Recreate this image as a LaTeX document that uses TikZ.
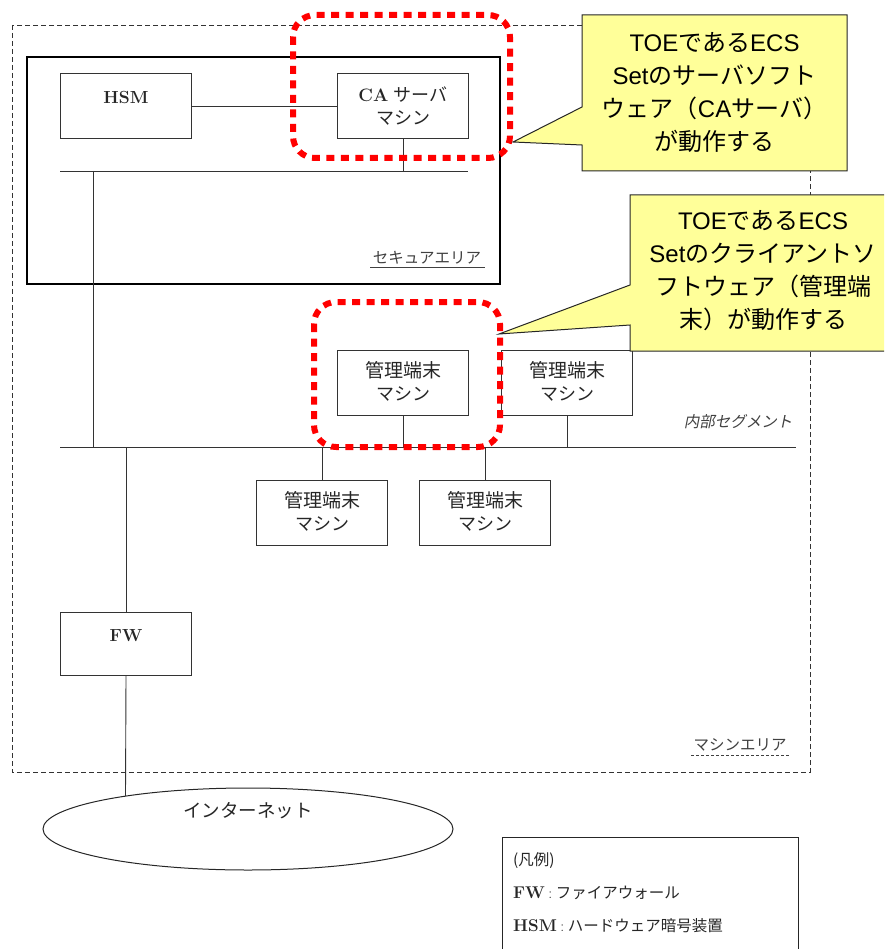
\documentclass[tikz,border=0pt]{standalone}
\usepackage{fontspec}
\usetikzlibrary{shapes.geometric,calc}
\newfontfamily\jp{Noto Sans CJK JP}
\newfontfamily\jpit{Noto Sans CJK JP}[FakeSlant=0.2]
\newfontfamily\ls{Liberation Sans}
\definecolor{callfill}{HTML}{FFFF99}
\definecolor{toered}{HTML}{FF0000}
\tikzset{
 box/.style={draw=black!80, line width=1pt, minimum width=131pt, minimum height=65pt, inner sep=0pt, anchor=north west},
 wire/.style={draw=black!80, line width=0.9pt},
 lab/.style={font=\fontsize{18}{20}\selectfont, text=black!85, inner sep=0pt},
 small/.style={font=\jp\fontsize{15.5}{18}\selectfont, text=black!75, inner sep=0pt},
 hot/.style={draw=toered, line width=6pt, dash pattern=on 8pt off 6.5pt, rounded corners=22pt},
 callout/.style={draw=black!85, line width=1pt, fill=callfill},
 calltext/.style={font=\jp\fontsize{24}{33}\selectfont, align=center, inner sep=0pt},
}
\begin{document}
\begin{tikzpicture}[x=1pt,y=-1pt]
\useasboundingbox (0,0) rectangle (884,949);
\clip (0,0) rectangle (884,949);
% machine area (dashed)
\draw[black!80, line width=0.9pt, dash pattern=on 5pt off 3pt] (12,25) rectangle (810,772);
% secure area
\draw[line width=2.5pt] (27,57) rectangle (500,284);
\node[small] (seclab) at (427,258) {セキュアエリア};
\draw[black!75, line width=0.8pt] (370,267) -- (485,267);
% boxes
\node[box] (hsm) at (60,73) {};
\node[box] (ca) at (337,73) {};
\node[box] (tA) at (337,350) {};
\node[box] (tB) at (501,350) {};
\node[box] (tC) at (256,480) {};
\node[box] (tD) at (419,480) {};
\node[box, minimum height=63pt] (fw) at (60,612) {};
% box texts
\node[lab, font=\bfseries\fontsize{17.5}{20}\selectfont] (hsmt) at ([yshift=-25pt]hsm.north) {HSM};
\node[lab] (cat1) at ([yshift=-22pt]ca.north) {{\bfseries CA} {\jp サーバ}};
\node[lab, font=\jp\fontsize{18}{20}\selectfont] (cat2) at ([yshift=-45pt]ca.north) {マシン};
\foreach \b in {tA,tB,tC,tD}{
  \node[lab, font=\jp\fontsize{19}{20}\selectfont] (\b1) at ([yshift=-20pt]\b.north) {管理端末};
  \node[lab, font=\jp\fontsize{18}{20}\selectfont] (\b2) at ([yshift=-44pt]\b.north) {マシン};
}
\node[lab, font=\bfseries\fontsize{17.5}{20}\selectfont] (fwt) at ([yshift=-24pt]fw.north) {FW};
% buses
\coordinate (b1w) at (60,171);
\coordinate (b1e) at (468,171);
\coordinate (j1) at (93,171);
\coordinate (j2) at (93,447);
\coordinate (b2w) at (60,447);
\coordinate (b2e) at (796,447);
\draw[wire] (hsm.east) -- (ca.west);
\draw[wire] (b1w) -- (b1e);
\draw[wire] (ca.south) -- (ca.south |- b1w);
\draw[wire] (j1) -- (j2);
\draw[wire] (b2w) -- (b2e);
\draw[wire] (tA.south) -- (tA.south |- b2w);
\draw[wire] (tB.south) -- (tB.south |- b2w);
\draw[wire] (tC.north) -- (tC.north |- b2w);
\draw[wire] (tD.north) -- (tD.north |- b2w);
\draw[wire] (fw.north) -- (fw.north |- b2w);
\node[small, font=\jpit\fontsize{15.5}{18}\selectfont] (seg) at (738,422) {内部セグメント};
% machine area label
\node[small] (malab) at (740,745) {マシンエリア};
\draw[black!75, line width=0.8pt, dash pattern=on 3pt off 2pt] (691,755) -- (789,755);
% internet
\node[draw=black!85, ellipse, line width=1pt, minimum width=410pt, minimum height=82pt, inner sep=0pt] (inet) at (248,829) {};
\node[lab, font=\jp\fontsize{18.5}{20}\selectfont] (inett) at (248,811) {インターネット};
\coordinate (ie) at (125.5,796);
\draw[wire] (fw.south) -- (ie);
% legend
\node[draw=black!85, line width=1pt, anchor=north west, minimum width=296pt, minimum height=140pt, inner sep=0pt] (legend) at (502,837) {};
\node[small, anchor=west, text=black!85] (lg1) at (513,861) {(凡例)};
\node[small, anchor=west, text=black!85] (lg2) at (513,893) {{\rmfamily\bfseries\fontsize{17}{18}\selectfont FW} {\rmfamily :} ファイアウォール};
\node[small, anchor=west, text=black!85] (lg3) at (513,926) {{\rmfamily\bfseries\fontsize{17}{18}\selectfont HSM} {\rmfamily :} ハードウェア暗号装置};
% red highlight frames
\draw[hot] (293,15) rectangle (510,158);
\draw[hot] (314,302) rectangle (500,447);
% callouts
\draw[callout] (582,15) -- (847,15) -- (847,171) -- (582,171) -- (582,145) -- (513,142) -- (582,107) -- cycle;
\node[calltext] (c1) at (714.5,92) {{\ls TOE}である{\ls ECS}\\{\ls Set}のサーバソフト\\ウェア（{\ls CA}サーバ）\\が動作する};
\draw[callout] (630,195) -- (892,195) -- (892,351) -- (630,351) -- (630,325) -- (499,334) -- (630,285) -- cycle;
\node[calltext] (c2) at (763,271) {{\ls TOE}である{\ls ECS}\\{\ls Set}のクライアントソ\\フトウェア（管理端\\末）が動作する};
\end{tikzpicture}
\end{document}
